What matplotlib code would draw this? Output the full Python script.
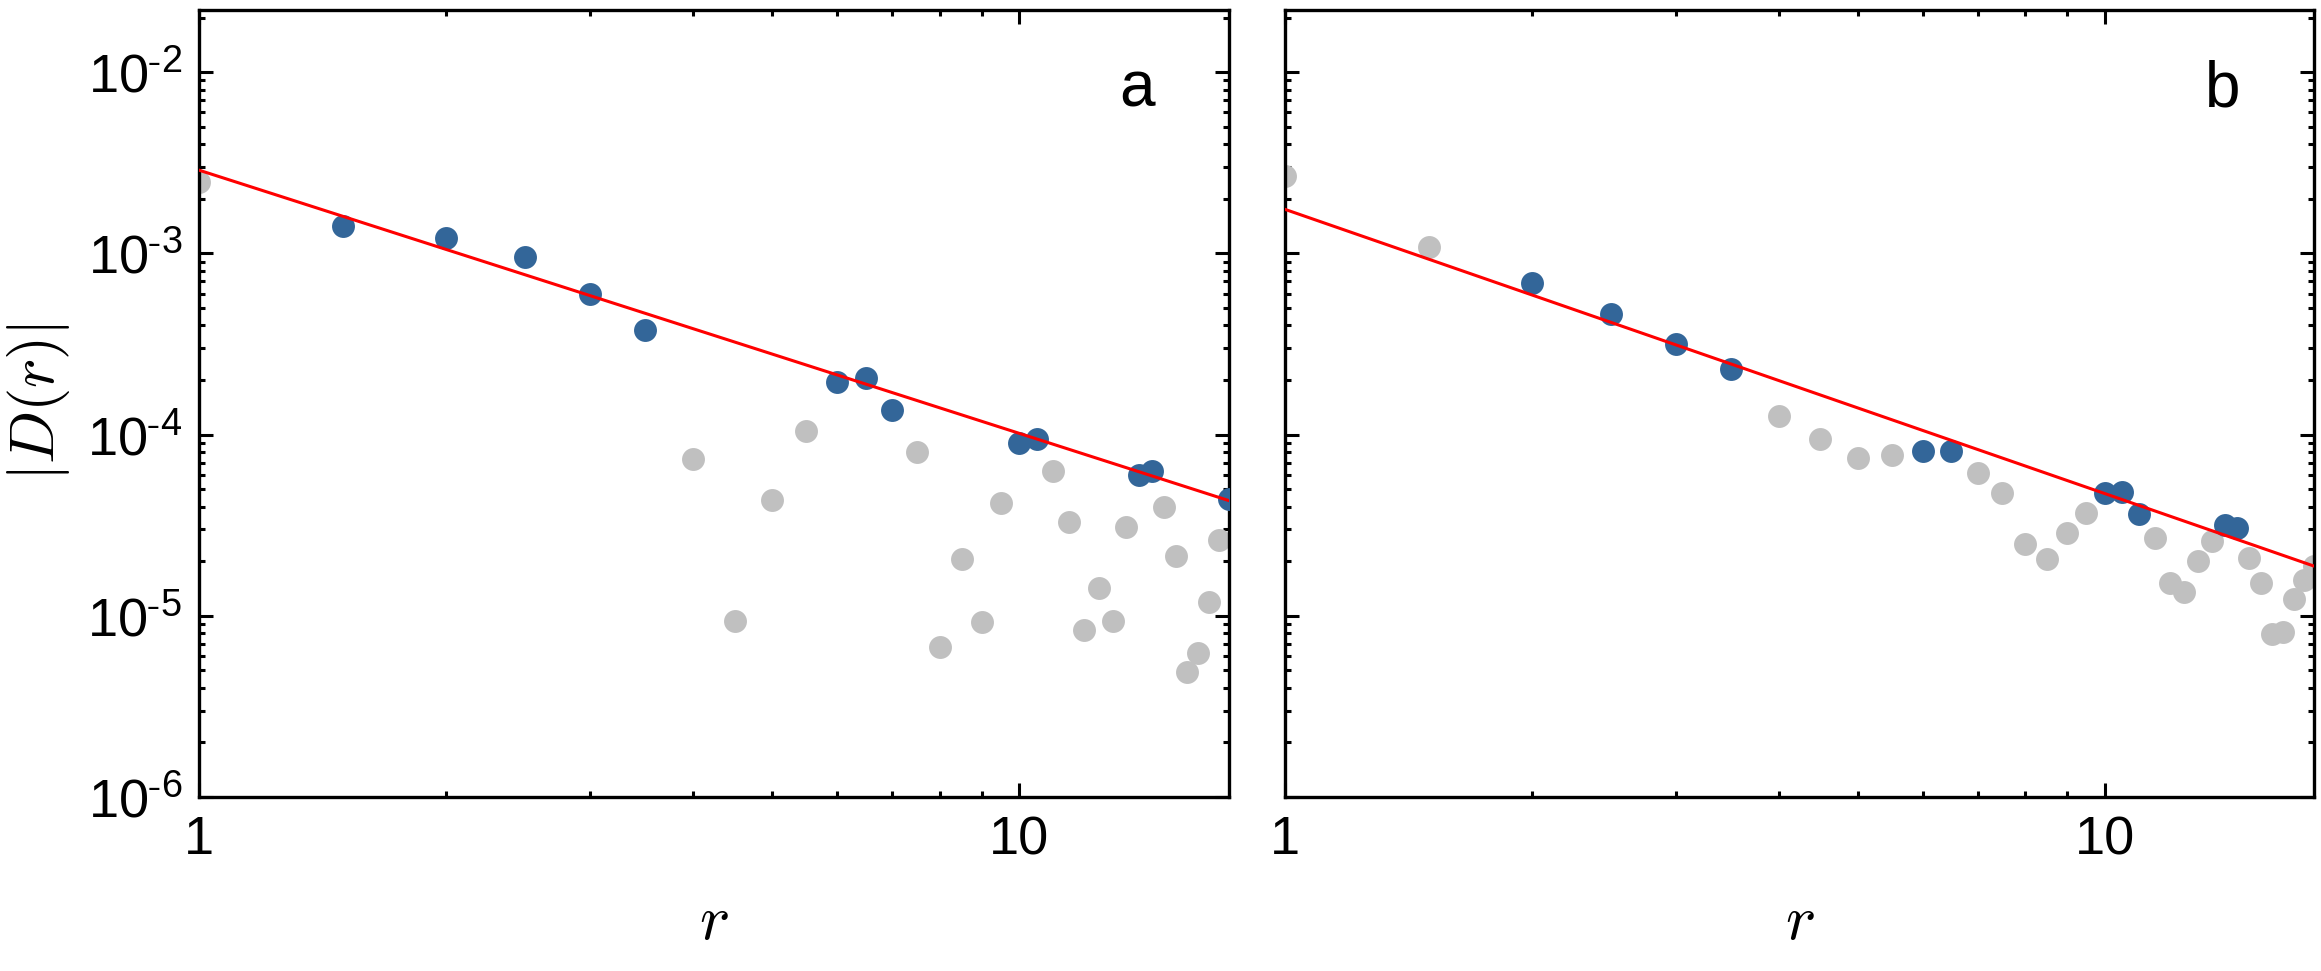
import numpy as np
import matplotlib
matplotlib.use("Agg")
import matplotlib.pyplot as plt
from matplotlib.ticker import FixedLocator, FixedFormatter, LogLocator, NullFormatter

plt.rcParams["font.family"] = ["Liberation Sans", "DejaVu Sans"]
plt.rcParams["mathtext.fontset"] = "cm"

# data
r = [1, 1.5, 2, 2.5, 3, 3.5, 4, 4.5, 5, 5.5, 6, 6.5, 7, 7.5, 8, 8.5, 9, 9.5,
     10, 10.5, 11, 11.5, 12, 12.5, 13, 13.5, 14, 14.5, 15, 15.5, 16, 16.5, 17, 17.5, 18]

D_a = [2.47e-3, 1.42e-3, 1.21e-3, 9.5e-4, 6.0e-4, 3.78e-4, 7.3e-5, 9.3e-6, 4.33e-5,
       1.05e-4, 1.95e-4, 2.04e-4, 1.36e-4, 8.0e-5, 6.7e-6, 2.06e-5, 9.2e-6, 4.19e-5,
       8.93e-5, 9.4e-5, 6.3e-5, 3.28e-5, 8.3e-6, 1.43e-5, 9.4e-6, 3.08e-5, 5.97e-5,
       6.3e-5, 4.0e-5, 2.13e-5, 4.9e-6, 6.2e-6, 1.19e-5, 2.61e-5, 4.4e-5]

D_b = [2.66e-3, 1.08e-3, 6.9e-4, 4.65e-4, 3.16e-4, 2.29e-4, 1.27e-4, 9.46e-5, 7.4e-5,
       7.7e-5, 8.1e-5, 8.1e-5, 6.1e-5, 4.76e-5, 2.5e-5, 2.06e-5, 2.85e-5, 3.67e-5,
       4.73e-5, 4.8e-5, 3.65e-5, 2.7e-5, 1.51e-5, 1.36e-5, 2.0e-5, 2.58e-5, 3.18e-5,
       3.04e-5, 2.08e-5, 1.52e-5, 7.9e-6, 8.1e-6, 1.24e-5, 1.57e-5, 1.89e-5]

# r values used in the fit (blue), the rest are grey
fit_pts_a = [1.5, 2, 2.5, 3, 3.5, 6, 6.5, 7, 10, 10.5, 14, 14.5, 18]
fit_pts_b = [2, 2.5, 3, 3.5, 6, 6.5, 10, 10.5, 11, 14, 14.5]

# power-law fit lines, end points
fit_r = [1, 18]
fit_a = [2.88e-3, 4.32e-5]
fit_b = [1.75e-3, 1.88e-5]

ytick_vals = [1e-6, 1e-5, 1e-4, 1e-3, 1e-2]
ytick_exp = [6, 5, 4, 3, 2]

panels = [("a", D_a, fit_pts_a, fit_a), ("b", D_b, fit_pts_b, fit_b)]

BLUE = "#336699"
GREY = "#c0c0c0"

fig = plt.figure(figsize=(23.21, 9.71), dpi=100)
axes = [fig.add_axes([0.0857, 0.1792, 0.4438, 0.8105]),
        fig.add_axes([0.5536, 0.1792, 0.4434, 0.8105])]

for ax, (name, D, blue_r, fit) in zip(axes, panels):
    r_arr = np.array(r)
    D_arr = np.array(D)
    is_blue = np.isin(r_arr, blue_r)
    ax.plot(r_arr[~is_blue], D_arr[~is_blue], "o", color=GREY, ms=16.5, mec="none", zorder=2)
    ax.plot(r_arr[is_blue], D_arr[is_blue], "o", color=BLUE, ms=16.5, mec="none", zorder=3)
    ax.plot(fit_r, fit, "-", color="red", lw=2.2, zorder=4)

    ax.set_xscale("log")
    ax.set_yscale("log")
    ax.set_xlim(1, 18)
    ax.set_ylim(1e-6, 10 ** -1.657)

    ax.xaxis.set_major_locator(FixedLocator([1, 10]))
    ax.xaxis.set_major_formatter(FixedFormatter(["1", "10"]))
    ax.xaxis.set_minor_locator(FixedLocator([2, 3, 4, 5, 6, 7, 8, 9]))
    ax.xaxis.set_minor_formatter(NullFormatter())

    ax.yaxis.set_major_locator(FixedLocator(ytick_vals))
    ax.yaxis.set_major_formatter(FixedFormatter(
        [r"$\mathregular{10^{\text{-}%d}}$" % k for k in ytick_exp]))
    ax.yaxis.set_minor_locator(LogLocator(base=10, subs=np.arange(2, 10), numticks=20))
    ax.yaxis.set_minor_formatter(NullFormatter())

    ax.tick_params(which="both", direction="in", top=True, right=True, width=2.2,
                   labelsize=39, color="black")
    ax.tick_params(which="major", length=10)
    ax.tick_params(which="minor", length=4.5)
    ax.tick_params(axis="x", pad=13)
    ax.tick_params(axis="y", pad=12)
    for sp in ax.spines.values():
        sp.set_linewidth(2.4)

    ax.text(0.911, 0.877, name, transform=ax.transAxes, fontsize=46,
            ha="center", va="baseline")
    pos = ax.get_position()
    fig.text((pos.x0 + pos.x1) / 2, 1 - 939 / 971, r"$r$", fontsize=46,
             ha="center", va="baseline")

axes[1].tick_params(axis="y", labelleft=False)

fig.text(39 / 2321, 1 - 402 / 971, r"$|D(r)|$", fontsize=45, rotation=90,
         ha="center", va="center")

fig.savefig("out.png", dpi=100)
